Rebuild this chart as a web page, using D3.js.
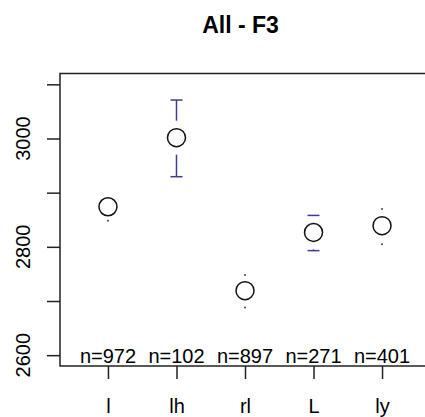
<!DOCTYPE html>
<html>
<head>
<meta charset="utf-8">
<script src="https://cdn.jsdelivr.net/npm/d3@7"></script>
<style>
  body { margin: 0; background: #fff; }
  text { font-family: "Liberation Sans", Arial, sans-serif; }
</style>
</head>
<body>
<div id="chart"></div>
<script>
// data
const categories = ["l", "lh", "rl", "L", "ly"];
const counts = [972, 102, 897, 271, 401];
const means = [2874, 3001.5, 2719, 2826.5, 2839];
const lower = [2848, 2929.5, 2688, 2793, 2805];
const upper = [2890, 3071, 2748, 2858, 2870];
const significant = [false, true, false, true, false];
const yTicks = [2600, 2700, 2800, 2900, 3000, 3100];
const yLabels = [2600, 2800, 3000];

const W = 425, H = 417;
const svg = d3.select("#chart").append("svg")
    .attr("width", W)
    .attr("height", H);

const x = d3.scaleLinear().domain([0.3, 5.7]).range([60, 430]);
const y = d3.scaleLinear().domain([2580, 3120]).range([366, 73.5]);

// title
svg.append("text")
    .attr("x", 240.5)
    .attr("y", 33)
    .attr("text-anchor", "middle")
    .style("font-size", "23px")
    .style("font-weight", "bold")
    .text("All - F3");

// plot box
svg.append("rect")
    .attr("x", x.range()[0])
    .attr("y", y.range()[1])
    .attr("width", x.range()[1] - x.range()[0])
    .attr("height", y.range()[0] - y.range()[1])
    .attr("fill", "none")
    .attr("stroke", "#222")
    .attr("stroke-width", 1.5);

// y axis ticks
const yAxis = svg.append("g")
    .attr("transform", `translate(${x.range()[0]},0)`)
    .call(d3.axisLeft(y).tickValues(yTicks).tickSize(13).tickSizeOuter(0).tickFormat(""));
yAxis.select(".domain").remove();
yAxis.selectAll("line").attr("stroke", "#222").attr("stroke-width", 1.5);

svg.selectAll(".ylab")
    .data(yLabels)
    .enter().append("text")
    .attr("class", "ylab")
    .attr("transform", d => `translate(29.5,${y(d)}) rotate(-90)`)
    .attr("text-anchor", "middle")
    .style("font-size", "20px")
    .text(d => d);

// x axis
const xAxis = svg.append("g")
    .attr("transform", `translate(0,${y.range()[0]})`)
    .call(d3.axisBottom(x).tickValues([1, 2, 3, 4, 5]).tickSize(13).tickSizeOuter(0)
        .tickFormat((d, i) => categories[i]));
xAxis.select(".domain").remove();
xAxis.selectAll("line").attr("stroke", "#222").attr("stroke-width", 1.5);
xAxis.selectAll("text")
    .attr("y", 47)
    .attr("dy", null)
    .attr("fill", "#000")
    .style("font-size", "20px")
    .style("font-family", "'Liberation Sans', Arial, sans-serif");

// n= labels
svg.selectAll(".nlab")
    .data(counts)
    .enter().append("text")
    .attr("class", "nlab")
    .attr("x", (d, i) => x(i + 1))
    .attr("y", 362.5)
    .attr("text-anchor", "middle")
    .style("font-size", "20px")
    .text(d => "n=" + d);

// error bars
const r = 9, gap = 17, capW = 6;
const barColor = "#3c3c8e";
categories.forEach((c, i) => {
    const cx = x(i + 1), cy = y(means[i]);
    const ends = [y(upper[i]), y(lower[i])];
    ends.forEach(ey => {
        const dir = ey < cy ? -1 : 1;
        if (significant[i]) {
            if (Math.abs(ey - cy) > gap) {
                svg.append("line")
                    .attr("x1", cx).attr("x2", cx)
                    .attr("y1", cy + dir * gap).attr("y2", ey)
                    .attr("stroke", barColor).attr("stroke-width", 1.5);
            }
            svg.append("line")
                .attr("x1", cx - capW).attr("x2", cx + capW)
                .attr("y1", ey).attr("y2", ey)
                .attr("stroke", barColor).attr("stroke-width", 1.5);
        } else if (Math.abs(ey - cy) > r + 2) {
            svg.append("circle")
                .attr("cx", cx).attr("cy", ey)
                .attr("r", 1)
                .attr("fill", "#444");
        }
    });
});

// points
svg.selectAll(".pt")
    .data(means)
    .enter().append("circle")
    .attr("class", "pt")
    .attr("cx", (d, i) => x(i + 1))
    .attr("cy", d => y(d))
    .attr("r", r)
    .attr("fill", "none")
    .attr("stroke", "#111")
    .attr("stroke-width", 1.5);
</script>
</body>
</html>
